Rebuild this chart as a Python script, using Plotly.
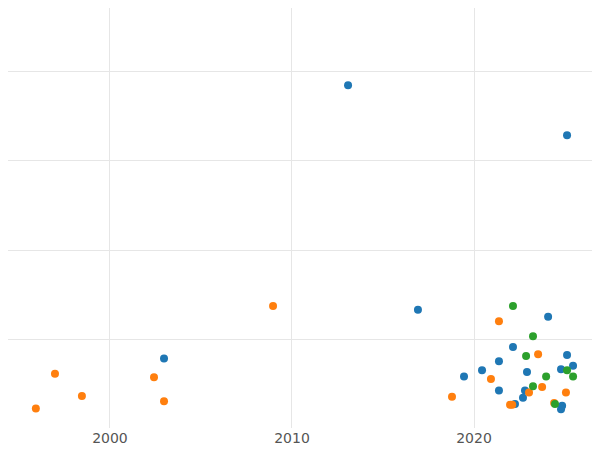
import plotly.graph_objects as go

blue_x = [2013.08, 2025.11, 2016.92, 2002.97, 2024.07, 2022.14, 2021.37, 2025.11, 2019.45, 2020.44, 2022.91, 2024.78, 2025.44, 2021.37, 2022.80, 2022.69, 2022.25, 2024.84, 2024.78]
blue_y = [385, 329, 133, 78, 125, 91, 75, 82, 58, 65, 63, 66, 70, 42, 42, 34, 27, 25, 21]
orange_x = [1995.93, 1996.98, 1998.46, 2002.42, 2002.97, 2008.96, 2018.79, 2020.93, 2021.37, 2023.52, 2021.98, 2023.02, 2023.74, 2024.40, 2025.05, 2022.1]
orange_y = [22, 61, 36, 57, 30, 137, 35, 55, 120, 83, 26, 40, 46, 28, 40, 26]
green_x = [2022.14, 2023.24, 2022.86, 2023.96, 2023.24, 2025.11, 2025.44, 2024.45]
green_y = [137, 103, 81, 58, 47, 65, 58, 27]

fig = go.Figure()
for xs, ys, c in [(blue_x, blue_y, "#1f77b4"), (orange_x, orange_y, "#ff7f0e"), (green_x, green_y, "#2ca02c")]:
    fig.add_trace(go.Scatter(x=xs, y=ys, mode="markers", marker=dict(color=c, size=8), showlegend=False))

fig.update_layout(
    width=600, height=450, margin=dict(l=0, r=0, t=0, b=30),
    plot_bgcolor="white", paper_bgcolor="white",
    font=dict(family="DejaVu Sans", size=14, color="#555"),
)
fig.update_xaxes(range=[1994.40, 2027.36], tickvals=[2000, 2010, 2020], gridcolor="#e6e6e6", zeroline=False, showline=False)
fig.update_yaxes(range=[0, 471.9], dtick=100, showticklabels=False, gridcolor="#e6e6e6", zeroline=False, showline=False)
fig.write_html("out.html")
